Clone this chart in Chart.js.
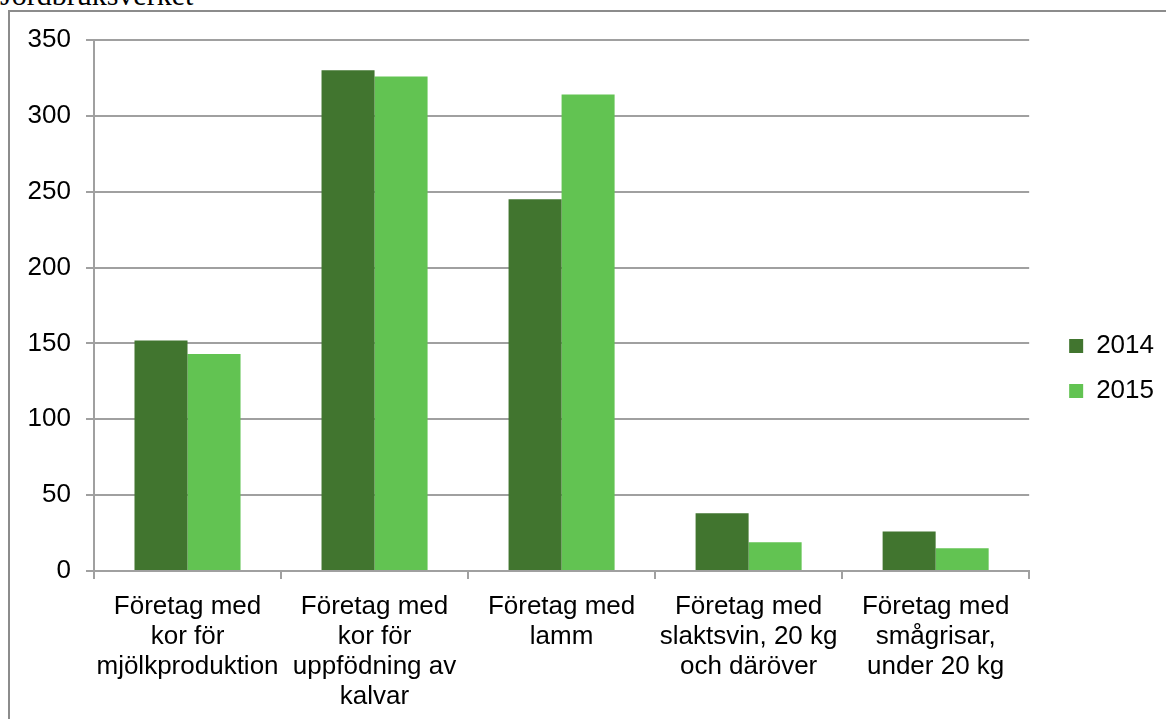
<!DOCTYPE html>
<html>
<head>
<meta charset="utf-8">
<script src="https://cdn.jsdelivr.net/npm/chart.js@4/dist/chart.umd.min.js"></script>
<style>
  html, body { margin: 0; padding: 0; background: #fff; overflow: hidden; width: 1166px; height: 719px; }
  #title { position: absolute; left: 0px; top: -20px; font-family: "Liberation Serif", "Times New Roman", serif; font-size: 30px; line-height: 30px; color: #000; white-space: nowrap; }
  #frame { position: absolute; left: 8px; top: 10px; width: 1200px; height: 800px; border-left: 2px solid #8c8c8c; border-top: 2px solid #8c8c8c; }
  #wrap { position: absolute; left: 9px; top: 10px; width: 1155px; height: 714px; }
</style>
</head>
<body>
<div id="title">Jordbruksverket</div>
<div id="frame"></div>
<div id="wrap"><canvas id="c"></canvas></div>
<script>
const categories = [
  ["Företag med", "kor för", "mjölkproduktion"],
  ["Företag med", "kor för", "uppfödning av", "kalvar"],
  ["Företag med", "lamm"],
  ["Företag med", "slaktsvin, 20 kg", "och däröver"],
  ["Företag med", "smågrisar,", "under 20 kg"]
];
const seriesNames = ["2014", "2015"];
const values2014 = [152, 330, 245, 38, 26];
const values2015 = [143, 326, 314, 19, 15];
const yTicks = [0, 50, 100, 150, 200, 250, 300, 350];

const FONT = { family: "'Liberation Sans', Arial, sans-serif", size: 26, lineHeight: 1.15 };
const GRID = '#a0a0a0';

// let the x-axis labels overflow the (fixed-height) axis box instead of being clipped
const unclipLabels = {
  id: 'unclipLabels',
  afterLayout(chart) {
    const x = chart.scales.x;
    x.bottom = x.top + 160;
  }
};

new Chart(document.getElementById('c'), {
  type: 'bar',
  data: {
    labels: categories,
    datasets: [
      { label: seriesNames[0], data: values2014, backgroundColor: '#41752f', borderWidth: 0 },
      { label: seriesNames[1], data: values2015, backgroundColor: '#62c352', borderWidth: 0 }
    ]
  },
  plugins: [unclipLabels],
  options: {
    responsive: true,
    maintainAspectRatio: false,
    animation: false,
    devicePixelRatio: 1,
    layout: { padding: { top: 30, bottom: 27, left: 0, right: 0 } },
    datasets: { bar: { barPercentage: 1.0, categoryPercentage: 0.567 } },
    plugins: {
      tooltip: { enabled: false },
      title: { display: false },
      legend: {
        position: 'right',
        align: 'center',
        labels: {
          color: '#000',
          font: FONT,
          boxWidth: 14,
          boxHeight: 14,
          padding: 19
        }
      }
    },
    scales: {
      x: {
        grid: { display: true, drawOnChartArea: false, drawTicks: true, tickLength: 8, color: GRID, lineWidth: 2, offset: true },
        border: { display: true, color: GRID, width: 2 },
        ticks: { color: '#000', font: FONT, padding: 13, maxRotation: 0, minRotation: 0, autoSkip: false },
        afterFit: s => { s.height = 126; }
      },
      y: {
        min: 0, max: 350,
        afterBuildTicks: s => { s.ticks = yTicks.map(v => ({ value: v })); },
        grid: { color: GRID, lineWidth: 2, tickLength: 8, drawTicks: true },
        border: { display: true, color: GRID, width: 2 },
        ticks: { color: '#000', font: FONT, padding: 15 },
        afterFit: s => { s.width = 85; }
      },
      spacer: {
        position: 'right',
        display: true,
        grid: { display: false },
        border: { display: false },
        ticks: { display: false },
        afterFit: s => { s.width = 21; }
      }
    }
  }
});
</script>
</body>
</html>
